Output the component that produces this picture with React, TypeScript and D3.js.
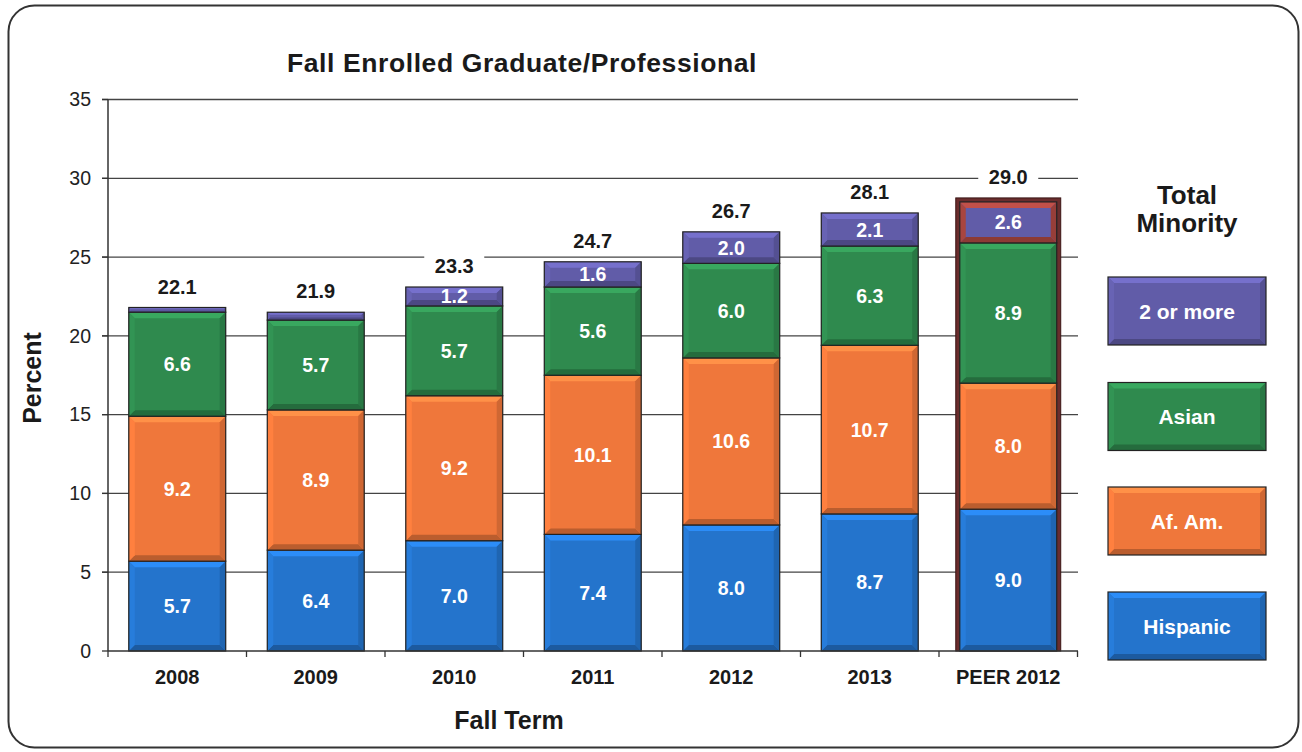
import React, { useEffect } from "react";
import * as d3 from "d3";

const categories = ["2008", "2009", "2010", "2011", "2012", "2013", "PEER 2012"];
const hispanic = [5.7, 6.4, 7.0, 7.4, 8.0, 8.7, 9.0];
const afAm = [9.2, 8.9, 9.2, 10.1, 10.6, 10.7, 8.0];
const asian = [6.6, 5.7, 5.7, 5.6, 6.0, 6.3, 8.9];
const twoOrMore = [0.3, 0.5, 1.2, 1.6, 2.0, 2.1, 2.6];
const totals = [22.1, 21.9, 23.3, 24.7, 26.7, 28.1, 29.0];
const yTicks = [0, 5, 10, 15, 20, 25, 30, 35];

const seriesNames = ["Hispanic", "Af. Am.", "Asian", "2 or more"];
const seriesColors = ["#2474cc", "#ef773b", "#2f8a4e", "#615ca8"];
const seriesData = [hispanic, afAm, asian, twoOrMore];

const FONT = "Liberation Sans, Arial, Helvetica, sans-serif";

function Bevel({ x, y, w, h, color, edge }: { x: number; y: number; w: number; h: number; color: string; edge?: string }) {
  const b = Math.max(1, Math.min(6, h / 3, w / 3));
  const c = d3.color(color)!;
  const top = edge ? d3.color(edge)!.brighter(0.4).formatHex() : c.brighter(0.55).formatHex();
  const bottom = edge ? d3.color(edge)!.darker(0.5).formatHex() : c.darker(0.7).formatHex();
  const left = edge ? d3.color(edge)!.formatHex() : c.brighter(0.2).formatHex();
  const right = edge ? d3.color(edge)!.darker(0.3).formatHex() : c.darker(0.4).formatHex();
  const pts = (arr: number[][]) => arr.map((p) => p.join(",")).join(" ");
  return (
    <g>
      <rect x={x} y={y} width={w} height={h} fill={color} />
      <polygon points={pts([[x, y], [x + w, y], [x + w - b, y + b], [x + b, y + b]])} fill={top} />
      <polygon points={pts([[x, y + h], [x + w, y + h], [x + w - b, y + h - b], [x + b, y + h - b]])} fill={bottom} />
      <polygon points={pts([[x, y], [x + b, y + b], [x + b, y + h - b], [x, y + h]])} fill={left} />
      <polygon points={pts([[x + w, y], [x + w - b, y + b], [x + w - b, y + h - b], [x + w, y + h]])} fill={right} />
      <rect x={x} y={y} width={w} height={h} fill="none" stroke="#222" strokeWidth={1.2} />
    </g>
  );
}

export default function App() {
  useEffect(() => {
    document.body.style.margin = "0";
    document.body.style.overflow = "hidden";
  }, []);

  const W = 1302;
  const H = 752;
  const x = d3.scaleBand<string>().domain(categories).range([108, 1077.5]).paddingInner(0.3).paddingOuter(0.15);
  const y = d3.scaleLinear().domain([0, 35]).range([651, 99.5]);

  const stackRows = categories.map((c, i) => {
    const row: any = { cat: c };
    seriesNames.forEach((s, k) => (row[s] = seriesData[k][i]));
    return row;
  });
  const stacked = d3.stack().keys(seriesNames)(stackRows);

  const peerIdx = categories.length - 1;
  const legendTops = [277, 382.5, 487, 592];
  const legendOrder = [3, 2, 1, 0];

  return (
    <svg width={W} height={H} style={{ position: "absolute", left: 0, top: 0, background: "#fff" }} fontFamily={FONT}>
      <rect x={0} y={0} width={W} height={H} fill="#fff" />
      <rect x={8.5} y={5.5} width={1290} height={742} rx={26} ry={26} fill="none" stroke="#333" strokeWidth={2} />

      {/* title */}
      <text x={522} y={72} textAnchor="middle" fontSize={26.5} letterSpacing={0.6} fontWeight="bold" fill="#1a1a1a">
        Fall Enrolled Graduate/Professional
      </text>

      {/* gridlines and y ticks */}
      {yTicks.map((t) => (
        <g key={t}>
          {t > 0 && <line x1={102} x2={1078} y1={y(t)} y2={y(t)} stroke="#444" strokeWidth={1.3} />}
          <line x1={102} x2={108} y1={y(t)} y2={y(t)} stroke="#333" strokeWidth={1.3} />
          <text x={91} y={y(t)} dy="0.35em" textAnchor="end" fontSize={19.5} fill="#222">
            {t}
          </text>
        </g>
      ))}

      {/* PEER frame */}
      {(() => {
        const top = y(d3.sum(seriesData, (s) => s[peerIdx]));
        const bx = x(categories[peerIdx])!;
        return (
          <rect x={bx - 4} y={top - 4} width={x.bandwidth() + 8} height={y(0) - top + 4} fill="#6a2d2d" stroke="#3a1515" strokeWidth={1} />
        );
      })()}

      {/* bars */}
      {stacked.map((layer, k) =>
        layer.map((d, i) => {
          const bx = x(categories[i])!;
          const y0 = y(d[0]);
          const y1 = y(d[1]);
          const h = y0 - y1;
          const isPeerTop = i === peerIdx && k === 3;
          return (
            <Bevel key={`${k}-${i}`} x={bx} y={y1} w={x.bandwidth()} h={h} color={seriesColors[k]} edge={isPeerTop ? "#a8453f" : undefined} />
          );
        })
      )}

      {/* segment labels */}
      {stacked.map((layer, k) =>
        layer.map((d, i) => {
          const v = seriesData[k][i];
          if (v < 1) return null;
          const cx = x(categories[i])! + x.bandwidth() / 2;
          const cy = (y(d[0]) + y(d[1])) / 2;
          return (
            <text key={`l${k}-${i}`} x={cx} y={cy} dy="0.36em" textAnchor="middle" fontSize={19.5} fontWeight="bold" fill="#fff">
              {v.toFixed(1)}
            </text>
          );
        })
      )}

      {/* total labels */}
      {categories.map((c, i) => {
        const top = y(stacked[3][i][1]) - (i === peerIdx ? 4 : 0);
        const cx = x(c)! + x.bandwidth() / 2;
        const cy = top - 21;
        return (
          <g key={`t${c}`}>
            <rect x={cx - 30} y={cy - 12} width={60} height={24} fill="#fff" />
            <text x={cx} y={cy} dy="0.36em" textAnchor="middle" fontSize={20} fontWeight="bold" fill="#1a1a1a">
              {totals[i].toFixed(1)}
            </text>
          </g>
        );
      })}

      {/* axes */}
      <line x1={108} x2={108} y1={y(35)} y2={y(0)} stroke="#333" strokeWidth={1.5} />
      <line x1={108} x2={1078} y1={y(0)} y2={y(0)} stroke="#333" strokeWidth={1.5} />
      {d3.range(categories.length + 1).map((j) => {
        const xx = 108 + j * x.step();
        return <line key={`xt${j}`} x1={xx} x2={xx} y1={y(0)} y2={y(0) + 6} stroke="#333" strokeWidth={1.3} />;
      })}
      {categories.map((c) => (
        <text key={`c${c}`} x={x(c)! + x.bandwidth() / 2} y={677} dy="0.36em" textAnchor="middle" fontSize={20} fontWeight="bold" fill="#1a1a1a">
          {c}
        </text>
      ))}

      {/* axis titles */}
      <text x={509} y={720} dy="0.36em" textAnchor="middle" fontSize={25} fontWeight="bold" fill="#1a1a1a">
        Fall Term
      </text>
      <text transform="translate(32,378) rotate(-90)" dy="0.36em" textAnchor="middle" fontSize={25} fontWeight="bold" fill="#1a1a1a">
        Percent
      </text>

      {/* legend */}
      <text x={1187} y={195} dy="0.36em" textAnchor="middle" fontSize={26} fontWeight="bold" fill="#1a1a1a">
        Total
      </text>
      <text x={1187} y={223} dy="0.36em" textAnchor="middle" fontSize={26} fontWeight="bold" fill="#1a1a1a">
        Minority
      </text>
      {legendOrder.map((k, j) => (
        <g key={`lg${k}`}>
          <Bevel x={1108} y={legendTops[j]} w={158} h={68} color={seriesColors[k]} />
          <text x={1187} y={legendTops[j] + 34} dy="0.36em" textAnchor="middle" fontSize={21} fontWeight="bold" fill="#fff">
            {seriesNames[k]}
          </text>
        </g>
      ))}
    </svg>
  );
}
